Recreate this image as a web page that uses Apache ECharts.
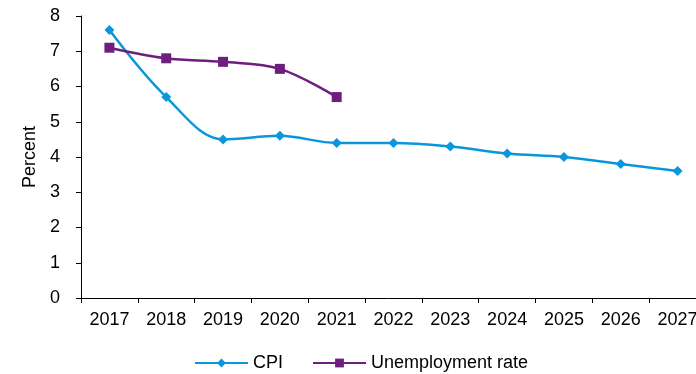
<!DOCTYPE html>
<html>
<head>
<meta charset="utf-8">
<style>
  html, body { margin: 0; padding: 0; background: #fff; }
  #chart { width: 696px; height: 374px; }
</style>
<script src="https://cdn.jsdelivr.net/npm/echarts@6/dist/echarts.min.js"></script>
</head>
<body>
<div id="chart"></div>
<script>
// Years on the category axis
const years = ['2017', '2018', '2019', '2020', '2021', '2022', '2023', '2024', '2025', '2026', '2027'];
// Consumer price inflation, percent
const cpi = [7.6, 5.7, 4.5, 4.6, 4.4, 4.4, 4.3, 4.1, 4.0, 3.8, 3.6];
// Unemployment rate, percent (available through 2021)
const unemployment = [7.1, 6.8, 6.7, 6.5, 5.7];
// Value axis tick labels
const yTicks = [0, 1, 2, 3, 4, 5, 6, 7, 8];

const font = 'Liberation Sans, Arial, sans-serif';
const blue = '#0A96DC';
const purple = '#6E1F7E';
const chart = echarts.init(document.getElementById('chart'), null, { renderer: 'canvas' });

chart.setOption({
  animation: false,
  textStyle: { fontFamily: font },
  // the plot runs slightly past the right edge, so the last year is cut off
  grid: { left: 81, top: 16, width: 625, height: 282, containLabel: false, outerBoundsMode: 'none' },
  legend: {
    top: 354,
    left: 194,
    padding: 0,
    itemWidth: 53,
    itemHeight: 11,
    itemGap: 29,
    textStyle: { fontSize: 18, color: '#000', fontFamily: font },
    data: ['CPI', 'Unemployment rate']
  },
  xAxis: {
    type: 'category',
    data: years,
    boundaryGap: true,
    axisLine: { lineStyle: { color: '#000', width: 1 } },
    axisTick: { show: true, length: 5, lineStyle: { color: '#000' } },
    axisLabel: { color: '#000', fontSize: 18, margin: 13, fontFamily: font, interval: 0 }
  },
  yAxis: {
    type: 'value',
    min: yTicks[0],
    max: yTicks[yTicks.length - 1],
    interval: 1,
    name: 'Percent',
    nameLocation: 'middle',
    nameGap: 41,
    nameRotate: 90,
    nameTextStyle: { color: '#000', fontSize: 18, fontFamily: font },
    axisLine: { show: true, lineStyle: { color: '#000', width: 1 } },
    axisTick: { show: true, length: 5, lineStyle: { color: '#000' } },
    axisLabel: { color: '#000', fontSize: 18, margin: 21, fontFamily: font },
    splitLine: { show: false }
  },
  series: [
    {
      name: 'CPI',
      type: 'line',
      data: cpi,
      smooth: 0.35,
      symbol: 'diamond',
      symbolSize: 10,
      itemStyle: { color: blue },
      lineStyle: { color: blue, width: 2.5 }
    },
    {
      name: 'Unemployment rate',
      type: 'line',
      data: unemployment,
      smooth: 0.35,
      symbol: 'rect',
      symbolSize: 10,
      itemStyle: { color: purple },
      lineStyle: { color: purple, width: 2.5 }
    }
  ]
});
</script>
</body>
</html>
